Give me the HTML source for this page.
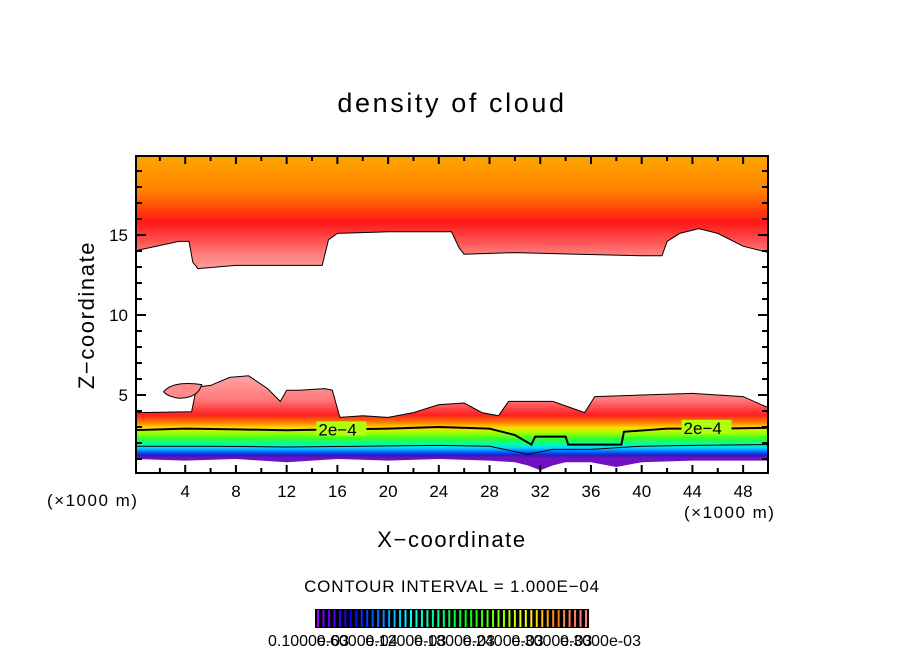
<!DOCTYPE html>
<html><head><meta charset="utf-8"><style>
html,body{margin:0;padding:0;background:#fff;}
svg{display:block;font-family:"Liberation Sans","DejaVu Sans",sans-serif;}
</style></head><body>
<svg id="chart" width="904" height="654" viewBox="0 0 904 654">
<defs>
<linearGradient id="gUpper" gradientUnits="userSpaceOnUse" x1="0" y1="156" x2="0" y2="270">
<stop offset="0" stop-color="#ffa400"/>
<stop offset="0.3" stop-color="#ff8400"/>
<stop offset="0.45" stop-color="#ff4a08"/>
<stop offset="0.58" stop-color="#ff1818"/>
<stop offset="0.72" stop-color="#ff4848"/>
<stop offset="0.85" stop-color="#ff7a7a"/>
<stop offset="1" stop-color="#ffa0a0"/>
</linearGradient>
<linearGradient id="gLower" gradientUnits="userSpaceOnUse" x1="0" y1="376" x2="0" y2="470">
<stop offset="0" stop-color="#ffa4a4"/>
<stop offset="0.25" stop-color="#ff7a7a"/>
<stop offset="0.415" stop-color="#ff2020"/>
<stop offset="0.49" stop-color="#ff7800"/>
<stop offset="0.55" stop-color="#ffdc00"/>
<stop offset="0.6" stop-color="#a8ff00"/>
<stop offset="0.67" stop-color="#30ff30"/>
<stop offset="0.73" stop-color="#00ffb0"/>
<stop offset="0.765" stop-color="#00d8ff"/>
<stop offset="0.81" stop-color="#0060ff"/>
<stop offset="0.84" stop-color="#2020c0"/>
<stop offset="0.875" stop-color="#7010c0"/>
<stop offset="1" stop-color="#7010c0"/>
</linearGradient>
<clipPath id="plotClip"><rect x="136" y="156" width="632" height="317"/></clipPath>
</defs>
<text x="452" y="112" text-anchor="middle" font-size="27" letter-spacing="2.6">density of cloud</text>
<g id="plot" clip-path="url(#plotClip)"></g>
<rect x="136" y="156" width="632" height="317" fill="none" stroke="#000" stroke-width="2"/>
<g id="ticks"></g>
<text transform="translate(94,315) rotate(-90)" text-anchor="middle" font-size="22" letter-spacing="1.6">Z−coordinate</text>
<text x="452" y="547" text-anchor="middle" font-size="22" letter-spacing="1.6">X−coordinate</text>
<text x="47" y="506" font-size="17" letter-spacing="1.5">(×1000 m)</text>
<text x="684" y="518" font-size="17" letter-spacing="1.5">(×1000 m)</text>
<text x="452" y="592" text-anchor="middle" font-size="17" letter-spacing="0.8">CONTOUR INTERVAL = 1.000E−04</text>
<g id="colorbar"></g>
<g id="cbLabels" font-size="16"></g>
</svg>
<script>
const NS="http://www.w3.org/2000/svg";
// upper cloud lower boundary (km)
const upperX=[0,3.5,4.3,4.6,5,8,12,14.8,15.3,16,20,25,25.6,26,30,35,40,41.6,42,43,44.5,46,48,50];
const upperZ=[14.0,14.6,14.6,13.3,12.9,13.1,13.1,13.1,14.7,15.1,15.2,15.2,14.2,13.8,13.9,13.8,13.7,13.7,14.6,15.1,15.4,15.1,14.3,13.9];
// lower cloud top boundary (km)
const lowerX=[0,4.5,4.9,6,7.5,9,10.5,11.5,12,13,15,15.6,16.2,18,20,22,24,26,27.4,28.7,29.5,33,35.5,36.3,40,44,48,50];
const lowerZ=[3.9,3.95,5.5,5.6,6.1,6.2,5.4,4.6,5.3,5.3,5.4,5.3,3.6,3.7,3.6,3.9,4.4,4.5,3.9,3.7,4.6,4.6,3.9,4.9,5.0,5.1,4.9,4.2];
// lower cloud base (km)
const baseX=[0,4,8,12,16,20,24,28,30,31,32,33,34,36,38,40,44,48,50];
const baseZ=[1.0,0.9,1.0,0.8,1.0,0.9,1.0,0.9,0.8,0.6,0.3,0.6,0.8,0.8,0.5,0.8,0.9,0.9,0.9];
// 2e-4 contour (km)
const c2X=[0,4,8,12,16,20,24,28,30,31.3,31.6,34,34.2,38.4,38.6,42,46,50];
const c2Z=[2.8,2.9,2.85,2.8,2.85,2.9,3.0,2.9,2.5,1.9,2.4,2.4,1.9,1.9,2.7,2.9,2.9,2.95];
// thin 1e-4 contour (km)
const c1X=[0,6,12,18,24,28,31,33,36,40,44,50];
const c1Z=[1.8,1.8,1.75,1.8,1.85,1.8,1.3,1.6,1.6,1.8,1.85,1.9];
const xTicks=[4,8,12,16,20,24,28,32,36,40,44,48];
const yTicks=[5,10,15];
const cbLevels=[1,2,3,4,5,6,7,8,9,10,11,12,13,14,15,16,17,18,19,20,21,22,23,24,25,26,27,28,29,30,31,32,33,34,35,36,37,38,39,40,41,42,43,44,45,46,47,48,49,50];
const cbLabels=["0.1000e-03","0.6000e-04","0.1200e-03","0.1800e-03","0.2400e-03","0.3000e-03","0.3000e-03"];

const X=x=>134.5+x*12.68;
const Y=z=>475-z*16;
function line(xs,zs){return xs.map((x,i)=>X(x).toFixed(1)+","+Y(zs[i]).toFixed(1)).join(" ");}
const plot=document.getElementById("plot");
function mk(tag,attrs,parent){const e=document.createElementNS(NS,tag);for(const k in attrs)e.setAttribute(k,attrs[k]);parent.appendChild(e);return e;}

let p=mk("polygon",{points:X(0)+","+Y(20)+" "+X(50)+","+Y(20)+" "+line(upperX.slice().reverse(),upperZ.slice().reverse()),fill:"url(#gUpper)",stroke:"#000","stroke-width":1},plot);



p=mk("polygon",{points:line(lowerX,lowerZ)+" "+line(baseX.slice().reverse(),baseZ.slice().reverse()),fill:"url(#gLower)"},plot);


p=mk("polyline",{points:line(lowerX,lowerZ),fill:"none",stroke:"#000","stroke-width":1},plot);



p=mk("path",{d:`M${X(2.3)},${Y(5.2)} Q${X(3)},${Y(5.9)} ${X(5.3)},${Y(5.65)} Q${X(5)},${Y(4.8)} ${X(3.5)},${Y(4.8)} Q${X(2.6)},${Y(4.9)} ${X(2.3)},${Y(5.2)}Z`,fill:"#ff8a8a",stroke:"#000","stroke-width":1},plot);



p=mk("polyline",{points:line(c1X,c1Z),fill:"none",stroke:"#000","stroke-width":1},plot);


p=mk("polyline",{points:line(c2X,c2Z),fill:"none",stroke:"#000","stroke-width":2},plot);


[[14.5,2.85],[43.3,2.95]].forEach((c,i)=>{
 const r=mk("rect",{x:X(c[0])-2,y:Y(c[1])-8,width:50,height:14,fill:"#b0ff10"},plot);
 
 
 const t=mk("text",{x:X(c[0]),y:Y(c[1])+6,"font-size":17},plot);t.textContent="2e−4";
 
 
});

const ticks=document.getElementById("ticks");
for(let x=2;x<50;x+=2){const maj=x%4===0;const L=maj?8:5;
 mk("line",{x1:X(x),x2:X(x),y1:473,y2:473-L,stroke:"#000","stroke-width":2},ticks);
 mk("line",{x1:X(x),x2:X(x),y1:156,y2:156+L,stroke:"#000","stroke-width":2},ticks);}
for(let z=1;z<20;z++){const maj=z%5===0;const L=maj?10:6;
 mk("line",{x1:136,x2:136+L,y1:Y(z),y2:Y(z),stroke:"#000","stroke-width":2},ticks);
 mk("line",{x1:768,x2:768-L,y1:Y(z),y2:Y(z),stroke:"#000","stroke-width":2},ticks);}
xTicks.forEach(v=>{const t=mk("text",{x:X(v),y:497,"text-anchor":"middle","font-size":17},ticks);t.textContent=v;
 
 });
yTicks.forEach(v=>{const t=mk("text",{x:128,y:Y(v)+6,"text-anchor":"end","font-size":17},ticks);t.textContent=v;
 
 });

const cb=document.getElementById("colorbar");
const bg=mk("rect",{x:315,y:609,width:274,height:19,fill:"#000"},cb);


function cbColor(f){const h=275-f*275;const l=f>0.9?60+(f-0.9)*150:50;return `hsl(${h},100%,${l}%)`;}
cbLevels.forEach((lv,i)=>{const f=i/(cbLevels.length-1);const x=318+f*268;
 const l=mk("line",{x1:x,x2:x,y1:610,y2:627,stroke:cbColor(f),"stroke-width":2},cb);
 
 });
const cbl=document.getElementById("cbLabels");
cbLabels.forEach((s,i)=>{const t=mk("text",{x:268+i*(560-268)/(cbLabels.length-1),y:646},cbl);t.textContent=s;
 
 });
</script>
</body></html>
